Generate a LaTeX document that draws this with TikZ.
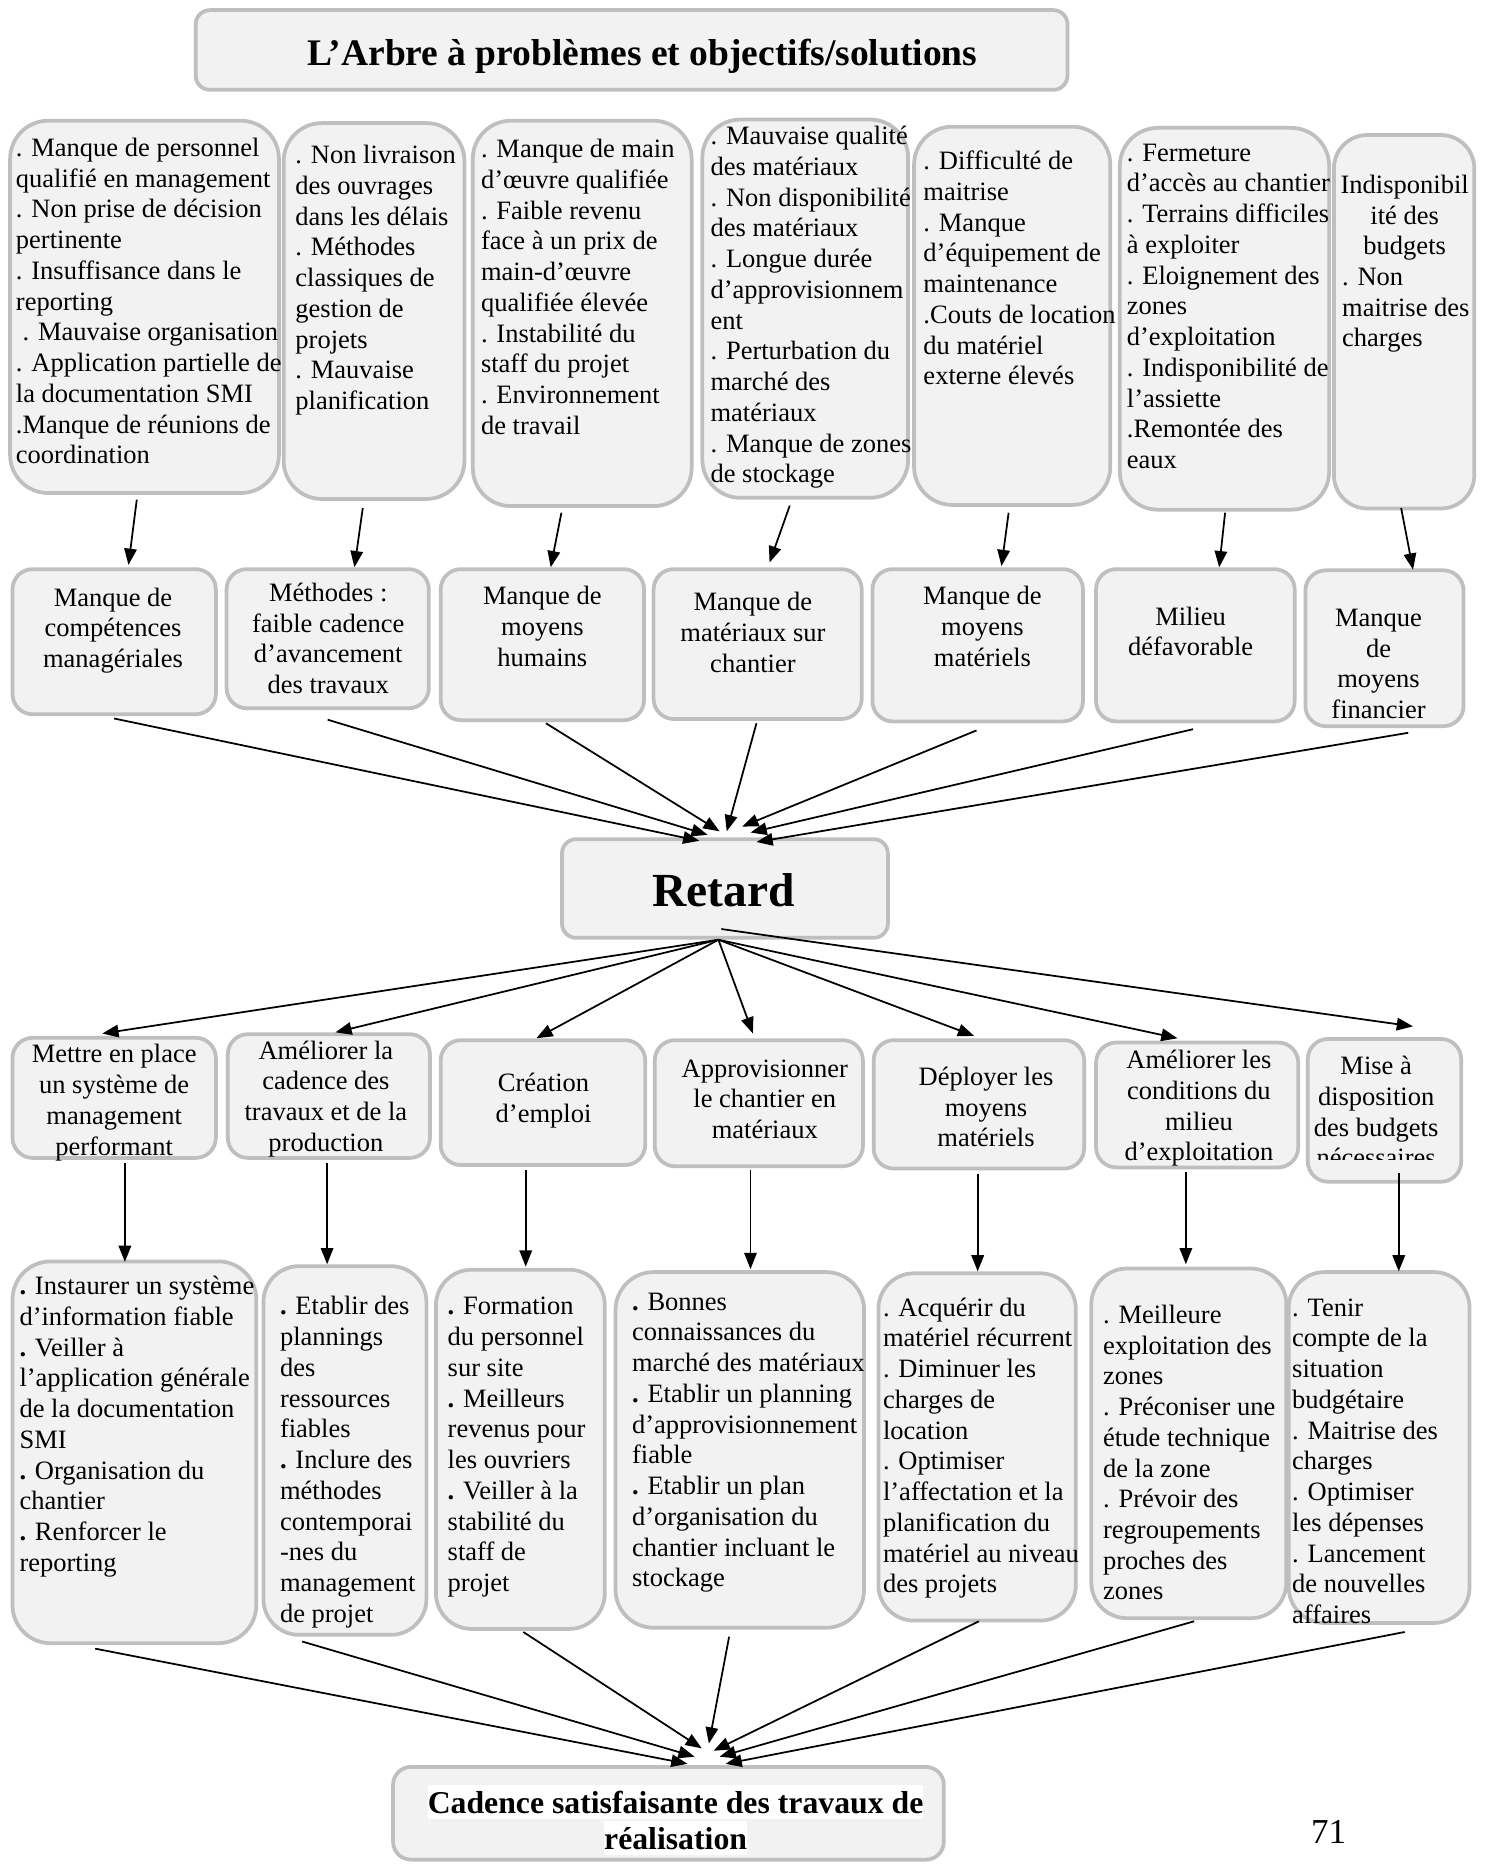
\documentclass[tikz,border=0pt]{standalone}
\usepackage{fontspec}
\setmainfont{Liberation Serif}
\usetikzlibrary{arrows.meta,calc}
\definecolor{boxfill}{HTML}{F2F2F2}
\definecolor{boxline}{HTML}{BFBFBF}
\newcommand{\pxu}{0.4758pt}
\newcommand{\bdot}{\textbf{.}}

\begin{document}
\begin{tikzpicture}[x=0.4758pt, y=-0.4758pt,
  bx/.style n args={3}{draw=boxline, fill=boxfill, line width=1.5pt, inner sep=0pt,
     minimum width=#1*\pxu, minimum height=#2*\pxu, rounded corners=#3*\pxu},
  body/.style={font=\fontsize{10.6}{12.3}\selectfont, inner sep=0pt, text=black},
  lefttxt/.style={body, align=left, anchor=north west},
  midtxt/.style={body, align=center, anchor=north},
  arr/.style={line width=0.7pt, -{Triangle[length=6.5pt,width=5pt]}},
]
\useasboundingbox (0,0) rectangle (1251,1568);
\fill[white] (0,0) rectangle (1251,1568);

% ---------- title ----------
\node[bx={733}{67}{12}] (title) at (531,42) {};
\node[font=\fontsize{15}{18}\selectfont\bfseries, anchor=base, inner sep=0pt] (titletxt) at (540,55)
  {L’Arbre à problèmes et objectifs/solutions};

% ---------- detailed causes ----------
\node[bx={226}{313}{32}] (b1) at (121.5,258) {};
\node[bx={152}{316}{32}] (b2) at (314.5,261.5) {};
\node[bx={184}{324}{32}] (b3) at (489.5,263.5) {};
\node[bx={173}{318}{32}] (b4) at (677,259.5) {};
\node[bx={165}{318}{32}] (b5) at (851,265.5) {};
\node[bx={176}{321}{32}] (b6) at (1029.5,268) {};
\node[bx={118}{314}{28}] (b7) at (1180.5,270.5) {};

\node[lefttxt] (b1t) at (13,113) {\strut. Manque de personnel\\qualifié en management\\. Non prise de décision\\pertinente\\. Insuffisance dans le\\reporting\\\hspace*{0.25em}. Mauvaise organisation\\. Application partielle de\\la documentation SMI\\.Manque de réunions de\\coordination};
\node[lefttxt] (b2t) at (248,119) {\strut. Non livraison\\des ouvrages\\dans les délais\\. Méthodes\\classiques de\\gestion de\\projets\\. Mauvaise\\planification};
\node[lefttxt] (b3t) at (404,114) {\strut. Manque de main\\d’œuvre qualifiée\\. Faible revenu\\face à un prix de\\main-d’œuvre\\qualifiée élevée\\. Instabilité du\\staff du projet\\. Environnement\\de travail};
\node[lefttxt] (b4t) at (597,103) {\strut. Mauvaise qualité\\des matériaux\\. Non disponibilité\\des matériaux\\. Longue durée\\d’approvisionnem\\ent\\. Perturbation du\\marché des\\matériaux\\. Manque de zones\\de stockage};
\node[lefttxt] (b5t) at (776,124) {\strut. Difficulté de\\maitrise\\. Manque\\d’équipement de\\maintenance\\.Couts de location\\du matériel\\externe élevés};
\node[lefttxt] (b6t) at (947,117) {\strut. Fermeture\\d’accès au chantier\\. Terrains difficiles\\à exploiter\\. Eloignement des\\zones\\d’exploitation\\. Indisponibilité de\\l’assiette\\.Remontée des\\eaux};
\node[midtxt] (b7t) at (1181,144) {\strut Indisponibil\\ité des\\budgets};
\node[lefttxt] (b7u) at (1128,221.4) {\strut. Non\\maitrise des\\charges};

% ---------- causes ----------
\node[bx={171}{122}{17}] (m1) at (96,539.5) {};
\node[bx={170}{117}{17}] (m2) at (275.5,537) {};
\node[bx={171}{127}{17}] (m3) at (456,542) {};
\node[bx={175}{126}{17}] (m4) at (637,541.5) {};
\node[bx={177}{128}{17}] (m5) at (822,542.5) {};
\node[bx={167}{128}{17}] (m6) at (1005,542.5) {};
\node[bx={133}{131}{17}] (m7) at (1164,545) {};

\node[midtxt] (m1t) at (95,491) {\strut Manque de\\compétences\\managériales};
\node[midtxt] (m2t) at (276,487) {\strut Méthodes :\\faible cadence\\d’avancement\\des travaux};
\node[midtxt] (m3t) at (456,490) {\strut Manque de\\moyens\\humains};
\node[midtxt] (m4t) at (633,495) {\strut Manque de\\matériaux sur\\chantier};
\node[midtxt] (m5t) at (826,490) {\strut Manque de\\moyens\\matériels};
\node[midtxt] (m6t) at (1001,507) {\strut Milieu\\défavorable};
\node[midtxt] (m7t) at (1159,508) {\strut Manque\\de\\moyens\\financier};

% ---------- central problem ----------
\node[bx={274}{83}{12}] (retard) at (609.5,747) {};
\node[font=\fontsize{19}{22}\selectfont\bfseries, anchor=base, inner sep=0pt] (retardtxt) at (608.5,762) {Retard};

% ---------- objectives ----------
\node[bx={171}{101}{17}] (s1) at (96,923) {};
\node[bx={170}{104}{17}] (s2) at (276.5,921.5) {};
\node[bx={172}{105}{17}] (s3) at (456.5,927) {};
\node[bx={175}{106}{17}] (s4) at (638,927.5) {};
\node[bx={177}{108}{17}] (s5) at (823,928.5) {};
\node[bx={170}{105}{17}] (s6) at (1006.5,929) {};
\node[bx={129}{120}{17}] (s7) at (1164,933.5) {};

\node[midtxt] (s1t) at (96,875) {\strut Mettre en place\\un système de\\management\\performant};
\node[midtxt] (s2t) at (274,872) {\strut Améliorer la\\cadence des\\travaux et de la\\production};
\node[midtxt] (s3t) at (457,899) {\strut Création\\d’emploi};
\node[midtxt] (s4t) at (643,887) {\strut Approvisionner\\le chantier en\\matériaux};
\node[midtxt] (s5t) at (829,894) {\strut Déployer les\\moyens\\matériels};
\node[midtxt] (s6t) at (1008,880) {\strut Améliorer les\\conditions du\\milieu\\d’exploitation};
\node[midtxt] (s7t) at (1157,885) {\strut Mise à\\disposition\\des budgets};
\begin{scope}
  \clip (1100,960) rectangle (1228,974.5);
  \node[midtxt] (s7c) at (1157,962.4) {\strut nécessaires};
\end{scope}

% ---------- actions ----------
\node[bx={205}{321}{32}] (d1) at (113,1221) {};
\node[bx={137}{310}{30}] (d2) at (290,1219.5) {};
\node[bx={142}{302}{30}] (d3) at (437.5,1218.5) {};
\node[bx={209}{299}{32}] (d4) at (622,1219) {};
\node[bx={166}{292}{30}] (d5) at (821.5,1216.5) {};
\node[bx={164}{294}{30}] (d6) at (999.5,1213.5) {};
\node[bx={152}{295}{30}] (d7) at (1159.5,1217) {};

\node[lefttxt] (d1t) at (16,1070) {\strut\bdot{} Instaurer un système\\d’information fiable\\\bdot{} Veiller à\\l’application générale\\de la documentation\\SMI\\\bdot{} Organisation du\\chantier\\\bdot{} Renforcer le\\reporting};
\node[lefttxt] (d2t) at (235,1087) {\strut\bdot{} Etablir des\\plannings\\des\\ressources\\fiables\\\bdot{} Inclure des\\méthodes\\contemporai\\-nes du\\management\\de projet};
\node[lefttxt] (d3t) at (376,1087) {\strut\bdot{} Formation\\du personnel\\sur site\\\bdot{} Meilleurs\\revenus pour\\les ouvriers\\\bdot{} Veiller à la\\stabilité du\\staff de\\projet};
\node[lefttxt] (d4t) at (531,1083) {\strut\bdot{} Bonnes\\connaissances du\\marché des matériaux\\\bdot{} Etablir un planning\\d’approvisionnement\\fiable\\\bdot{} Etablir un plan\\d’organisation du\\chantier incluant le\\stockage};
\node[lefttxt] (d5t) at (742,1088) {\strut. Acquérir du\\matériel récurrent\\. Diminuer les\\charges de\\location\\. Optimiser\\l’affectation et la\\planification du\\matériel au niveau\\des projets};
\node[lefttxt] (d6t) at (927,1094) {\strut. Meilleure\\exploitation des\\zones\\. Préconiser une\\étude technique\\de la zone\\. Prévoir des\\regroupements\\proches des\\zones};
\node[lefttxt] (d7t) at (1086,1088) {\strut. Tenir\\compte de la\\situation\\budgétaire\\. Maitrise des\\charges\\. Optimiser\\les dépenses\\. Lancement\\de nouvelles\\affaires};

% ---------- final goal ----------
\node[bx={463}{78}{15}] (fin) at (562,1524.5) {};
\node[font=\fontsize{12.7}{15}\selectfont\bfseries, fill=white, inner sep=0pt, text height=11.5pt, text depth=2.2pt, anchor=base] (fin1) at (568,1525) {Cadence satisfaisante des travaux de};
\node[font=\fontsize{12.7}{15}\selectfont\bfseries, fill=white, inner sep=0pt, text height=11.5pt, text depth=2.2pt, anchor=base] (fin2) at (568,1555) {réalisation};

\node[font=\fontsize{14}{16}\selectfont, anchor=base, inner sep=0pt] (pagenum) at (1117,1550) {71};

% ---------- connectors: detailed causes -> causes ----------
\draw[arr] ($(b1.south)+(-6.5,4)$) -- ($(m1.north)+(12,-2)$);
\draw[arr] ($(b2.south)+(-9.5,6)$) -- ($(m2.north)+(22.5,0)$);
\draw[arr] ($(b3.south)+(-17.5,4)$) -- ($(m3.north)+(7,0)$);
\draw[arr] ($(b4.south)+(-13,5)$) -- ($(m4.north)+(10,-4)$);
\draw[arr] ($(b5.south)+(-3,5)$) -- ($(m5.north)+(20,-1)$);
\draw[arr] ($(b6.south)+(0.5,1)$) -- ($(m6.north)+(20,0)$);
\draw[arr] ($(b7.south)+(-2.5,-2)$) -- ($(m7.north)+(24,1)$);

% ---------- causes -> Retard ----------
\draw[arr] ($(m1.south)+(0,2)$) -- ($(retard.north)+(-21.5,3)$);
\draw[arr] ($(m2.south)+(0,8)$) -- ($(retard.north)+(-14.5,-2)$);
\draw[arr] ($(m3.south)+(3,1)$) -- ($(retard.north)+(-4.5,-5)$);
\draw[arr] ($(m4.south)+(-1,2)$) -- ($(retard.north)+(1.5,-5)$);
\draw[arr] ($(m5.south)+(-1,6)$) -- ($(retard.north)+(14.5,-9)$);
\draw[arr] ($(m6.south)+(-2,5)$) -- ($(retard.north)+(21.5,-4)$);
\draw[arr] ($(m7.south)+(20,4)$) -- ($(retard.north)+(26.5,4)$);

% ---------- Retard -> objectives ----------
\draw[arr] ($(retard.south)+(-5.5,0)$) -- ($(s1.north)+(-10,-2)$);
\draw[arr] ($(retard.south)+(-5.5,0)$) -- ($(s2.north)+(5.5,0)$);
\draw[arr] ($(retard.south)+(-5.5,0)$) -- ($(s3.north)+(-5.5,0)$);
\draw[arr] ($(retard.south)+(-5.5,0)$) -- ($(s4.north)+(-5,-4)$);
\draw[arr] ($(retard.south)+(-5.5,0)$) -- ($(s5.north)+(-4,-2)$);
\draw[arr] ($(retard.south)+(-5.5,0)$) -- ($(s6.north)+(-16.5,-2)$);
\draw[arr] ($(retard.south)+(-3,-9)$) -- ($(s7.north)+(24,-9)$);

% ---------- objectives -> actions ----------
\draw[arr] ($(s1.south)+(9,3)$) -- ($(d1.north)+(-8,2)$);
\draw[arr] ($(s2.south)+(-1.5,3)$) -- ($(d2.north)+(-15,0)$);
\draw[arr] ($(s3.south)+(-14.5,3)$) -- ($(d3.north)+(4.5,-1)$);
\draw[arr] ($(s4.south)+(-7,2)$) -- ($(d4.north)+(9,-1)$);
\draw[arr] ($(s5.south)+(-1,3)$) -- ($(d5.north)+(0.5,0)$);
\draw[arr] ($(s6.south)+(-9.5,2)$) -- ($(d6.north)+(-2.5,-2)$);
\draw[arr] ($(s7.south)+(12,-9)$) -- ($(d7.north)+(16.5,1)$);

% ---------- actions -> final goal ----------
\draw[arr] ($(d1.south)+(-33,3)$) -- ($(fin.north)+(16,-1)$);
\draw[arr] ($(d2.south)+(-36,4)$) -- ($(fin.north)+(22,-7)$);
\draw[arr] ($(d3.south)+(2.5,1)$) -- ($(fin.north)+(28,-14)$);
\draw[arr] ($(d4.south)+(-9,6)$) -- ($(fin.north)+(34,-18)$);
\draw[arr] ($(d5.south)+(1.5,-1)$) -- ($(fin.north)+(38,-12)$);
\draw[arr] ($(d6.south)+(4.5,1)$) -- ($(fin.north)+(43,-7)$);
\draw[arr] ($(d7.south)+(21.5,6)$) -- ($(fin.north)+(48,-1)$);
\end{tikzpicture}
\end{document}
